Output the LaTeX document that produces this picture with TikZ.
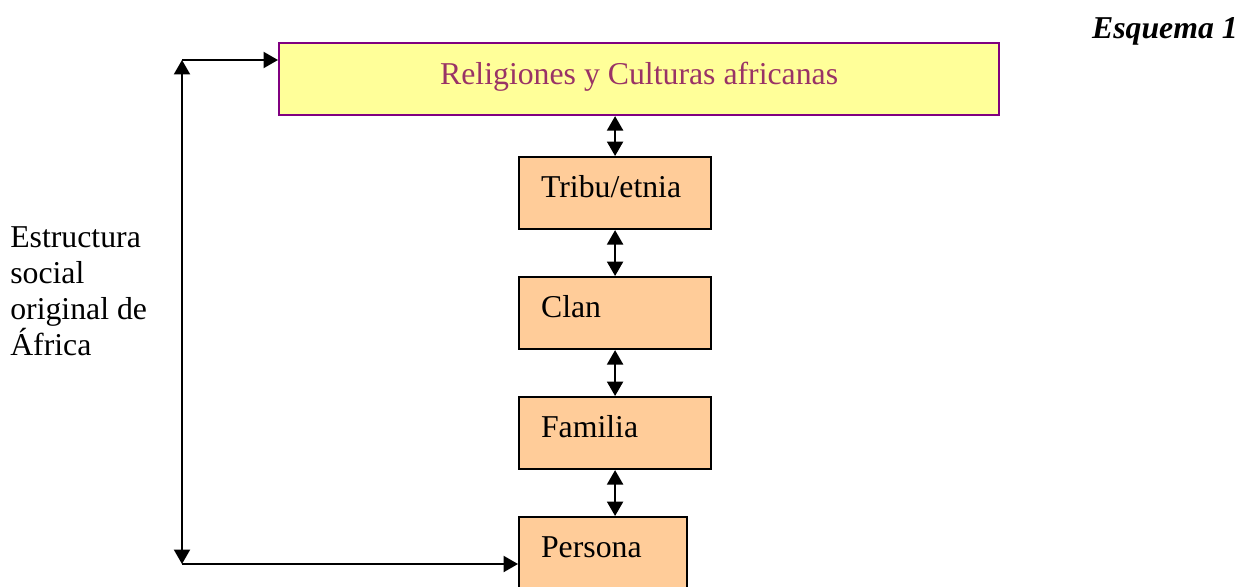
\documentclass[tikz,border=0pt]{standalone}
\usepackage{fontspec}
\setmainfont{Liberation Serif}
\usetikzlibrary{arrows.meta}
\definecolor{paleyellow}{HTML}{FFFF99}
\definecolor{peach}{HTML}{FFCC99}
\definecolor{plum}{HTML}{993366}
\definecolor{boxpurple}{HTML}{800080}
\newcommand{\bigtext}{\fontsize{22.6}{25.8}\selectfont}
\tikzset{
  level/.style={draw=black, line width=1.5pt, fill=peach, minimum height=1.8cm,
    inner xsep=0.55cm, text width=3.7cm, text depth=0.32cm, align=left, font=\bigtext, anchor=north west},
  link/.style={line width=1.4pt, {Triangle[length=0.36cm,width=0.4cm]}-{Triangle[length=0.36cm,width=0.4cm]}},
  feed/.style={line width=1.4pt, -{Triangle[length=0.36cm,width=0.4cm]}},
}
\begin{document}
\begin{tikzpicture}[x=0.025cm, y=-0.025cm]
\useasboundingbox (0,0) rectangle (1243,586);
% top box
\node[draw=boxpurple, line width=1.5pt, fill=paleyellow, minimum width=18cm, minimum height=1.8cm,
  text depth=0.3cm, anchor=north west, text=plum, font=\bigtext] (religion) at (278,42) {Religiones y Culturas africanas};
% levels
\node[level] (tribu) at (518,156) {Tribu/etnia};
\node[level] (clan) at (518,276) {Clan};
\node[level] (familia) at (518,396) {Familia};
\node[level, text width=3.1cm] (persona) at (518,516) {Persona};
\draw[link] (religion.south -| tribu.north) -- (tribu.north);
\draw[link] (tribu.south) -- (clan.north);
\draw[link] (clan.south) -- (familia.north);
\draw[link] (familia.south) -- (familia.south |- persona.north);
% side frame
\coordinate (topcorner) at (182,60);
\coordinate (botcorner) at (182,564);
\draw[link] (topcorner) -- (botcorner);
\draw[feed] (topcorner) -- (topcorner -| religion.west);
\draw[feed] (botcorner) -- (botcorner -| persona.west);
\node[anchor=north west, align=left, inner sep=0, font=\bigtext] (estructura) at (10,226)
  {Estructura\\social\\original de\\África};
\node[anchor=base east, inner sep=0, font=\bigtext\bfseries\itshape] (esquema) at (1238,38) {Esquema 1};
\end{tikzpicture}
\end{document}
